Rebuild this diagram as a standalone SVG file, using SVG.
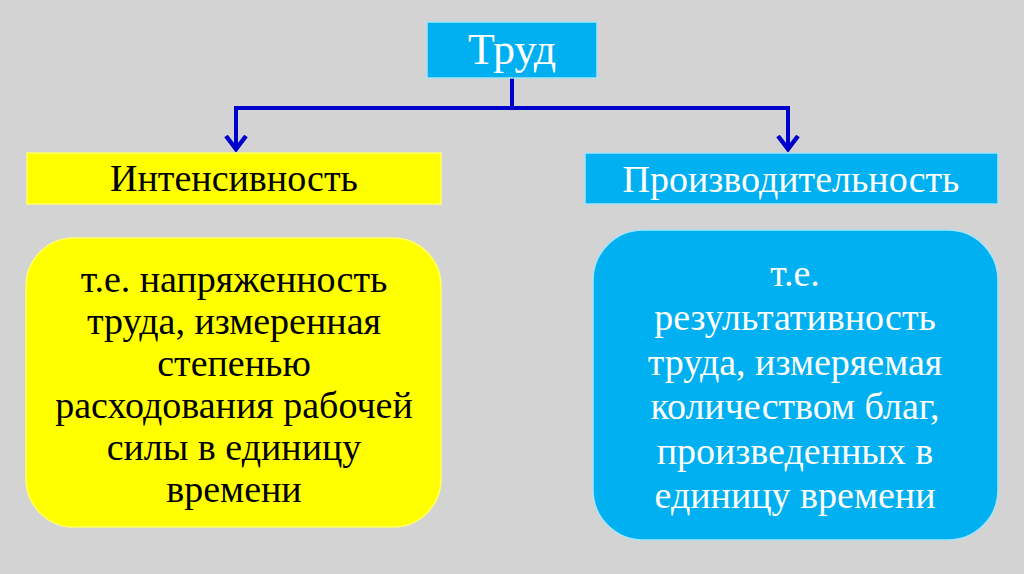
<svg xmlns="http://www.w3.org/2000/svg" width="1024" height="574" viewBox="0 0 1024 574">
<style>
.t{font-family:"Liberation Serif","Times New Roman",serif;font-size:38px;text-anchor:middle}
.w{fill:#ffffff}
.k{fill:#000000}
.blue{fill:#00b0f0;stroke:#a8e4f8;stroke-width:1.5}
.yel{fill:#ffff00;stroke:#ffff66;stroke-width:1.5}
.con{fill:none;stroke:#0000cc;stroke-width:4}
</style>
<defs>
<marker id="arr" viewBox="0 0 20 24" refX="17" refY="12" markerWidth="20" markerHeight="24" markerUnits="userSpaceOnUse" orient="auto">
<path d="M3,2 L16,12 L3,22" fill="none" stroke="#0000cc" stroke-width="4.5" stroke-linejoin="miter"/>
</marker>
</defs>
<rect width="1024" height="574" fill="#d3d3d3"/>
<g id="connectors">
<path class="con" d="M512,78 V108"/>
<path class="con" d="M234,108 H790"/>
<path class="con" d="M236,108 V150" marker-end="url(#arr)"/>
<path class="con" d="M788,108 V150" marker-end="url(#arr)"/>
</g>
<g id="trud">
<rect class="blue" x="427" y="22" width="170" height="56"/>
<text class="t w" x="512" y="64" style="font-size:44px">Труд</text>
</g>
<g id="intensivnost">
<rect class="yel" x="27" y="153" width="414" height="51"/>
<text class="t k" x="234" y="191">Интенсивность</text>
</g>
<g id="proizvoditelnost">
<rect class="blue" x="585" y="153" width="413" height="51"/>
<text class="t w" x="791" y="192">Производительность</text>
</g>
<g id="intensivnost-def">
<rect class="yel" x="26" y="238" width="415" height="289" rx="48" ry="48"/>
<text class="t k" x="234" y="292">т.е. напряженность</text>
<text class="t k" x="234" y="334">труда, измеренная</text>
<text class="t k" x="234" y="376">степенью</text>
<text class="t k" x="234" y="418">расходования рабочей</text>
<text class="t k" x="234" y="460">силы в единицу</text>
<text class="t k" x="234" y="502">времени</text>
</g>
<g id="proizvoditelnost-def">
<rect class="blue" x="593" y="230" width="405" height="310" rx="50" ry="50"/>
<text class="t w" x="795" y="286">т.е.</text>
<text class="t w" x="795" y="330">результативность</text>
<text class="t w" x="795" y="375">труда, измеряемая</text>
<text class="t w" x="795" y="419">количеством благ,</text>
<text class="t w" x="795" y="464">произведенных в</text>
<text class="t w" x="795" y="508">единицу времени</text>
</g>
</svg>
